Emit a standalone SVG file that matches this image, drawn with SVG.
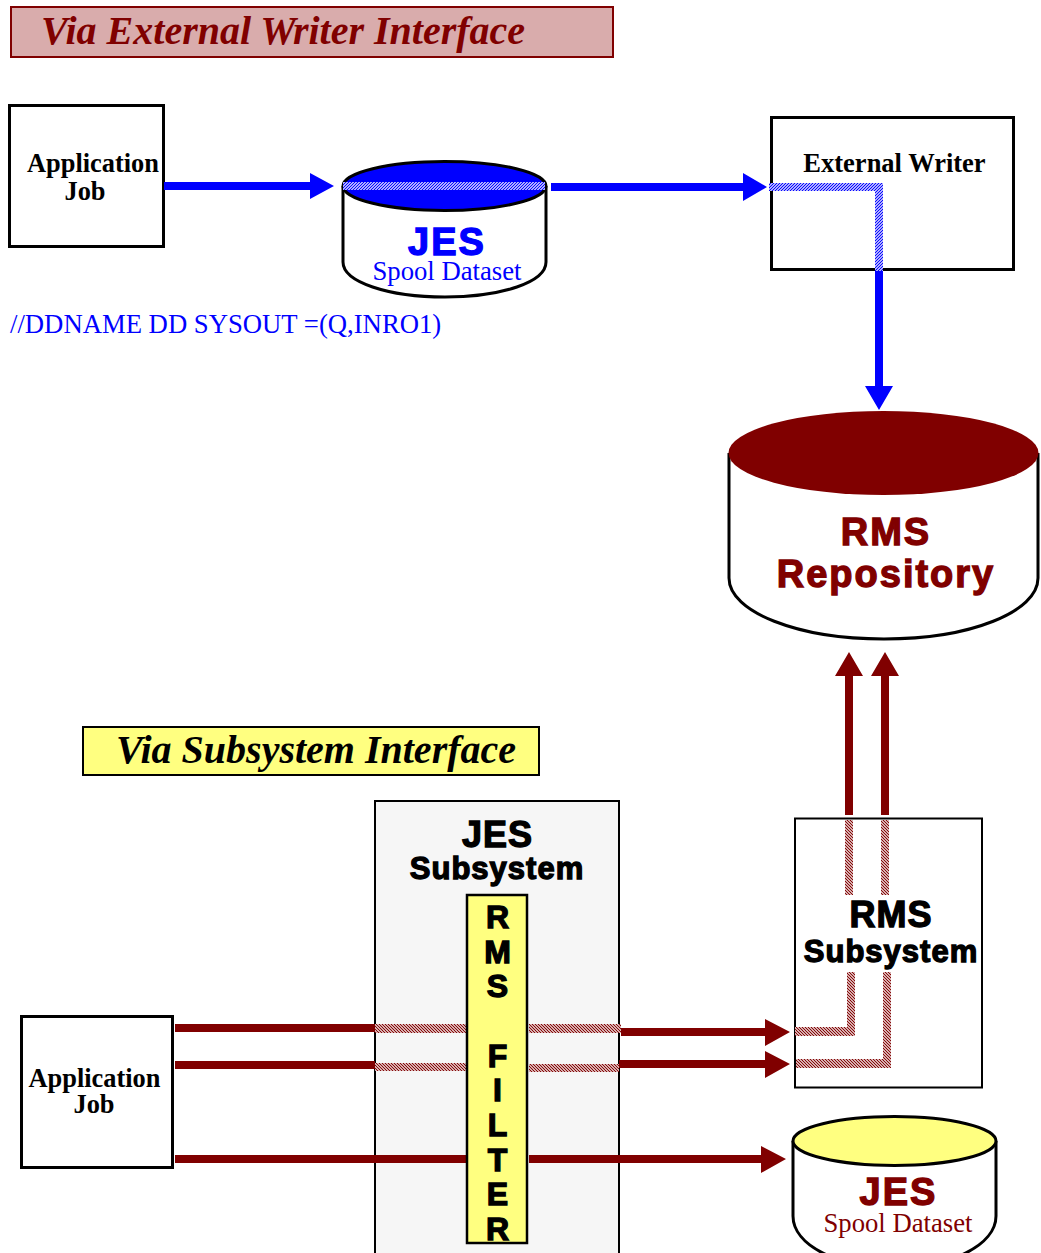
<svg xmlns="http://www.w3.org/2000/svg" width="1041" height="1253" viewBox="0 0 1041 1253">
<style>
.box{fill:#fff;stroke:#000;stroke-width:3}
.cyl{stroke:#000;stroke-width:3}
.serif{font-family:"Liberation Serif","Times New Roman",serif}
.sans{font-family:"Liberation Sans",Arial,sans-serif;font-weight:700;stroke-width:1.3;paint-order:stroke}
.k{fill:#000;stroke:#000}
.t{text-anchor:middle}
.b{font-weight:700}
.blue{fill:#00f}
.red{fill:#800000}
.sb{stroke:#00f}
.sr{stroke:#800000}
</style>
<defs>
<pattern id="hb" width="3" height="3" patternUnits="userSpaceOnUse"><rect width="3" height="3" fill="#fff"/><path d="M0 3L3 0M-1 1L1 -1M2 4L4 2" stroke="#00f" stroke-width="1.2"/></pattern>
<pattern id="hr" width="3" height="3" patternUnits="userSpaceOnUse"><rect width="3" height="3" fill="#fff"/><path d="M0 0L3 3M-1 2L1 4M2 -1L4 1" stroke="#800000" stroke-width="1.2"/></pattern>
</defs>

<g id="title-external">
<rect x="11" y="7" width="602" height="50" fill="#d9acac" stroke="#800000" stroke-width="2"/>
<text class="serif b red" x="41" y="44" font-size="40" font-style="italic">Via External Writer Interface</text>
</g>
<g id="app-job-top">
<rect class="box" x="9.500" y="105.500" width="154" height="141"/>
<text class="serif b t" x="93" y="172" font-size="26.400">Application</text>
<text class="serif b t" x="85" y="200" font-size="26.400">Job</text>
</g>
<g id="jes-spool-top">
<path d="M343 186V262C343 282 388 297 445 297S546 282 546 262V186" fill="#fff" stroke="#000" stroke-width="3"/>
<ellipse class="cyl" cx="444.500" cy="186" rx="101.500" ry="24.500" fill="#00f"/>
<text class="sans t blue sb" x="447" y="255" font-size="38" letter-spacing="2">JES</text>
<text class="serif t blue" x="447" y="280" font-size="26.700">Spool Dataset</text>
</g>
<g id="external-writer">
<rect class="box" x="771.500" y="117.500" width="242" height="152"/>
<text class="serif b t" x="894.500" y="172" font-size="26.500">External Writer</text>
</g>
<g id="rms-repository">
<path d="M729 453V578C729 612 798 639 884 639S1038 612 1038 578V453" fill="#fff" stroke="#000" stroke-width="3"/>
<ellipse cx="883.500" cy="453" rx="155" ry="42" fill="#800000"/>
<text class="sans t red sr" x="886" y="545" font-size="38" letter-spacing="2">RMS</text>
<text class="sans t red sr" x="886" y="587" font-size="38" letter-spacing="2">Repository</text>
</g>
<text class="serif blue" x="10" y="333" font-size="26.700">//DDNAME DD SYSOUT =(Q,INRO1)</text>

<g id="title-subsystem">
<rect x="83" y="727" width="456" height="48" fill="#ffff80" stroke="#000" stroke-width="2"/>
<text class="serif b" x="116" y="763" font-size="40" font-style="italic">Via Subsystem Interface</text>
</g>
<g id="jes-subsystem">
<path d="M375 1253V801H619V1253" fill="#f6f6f6" stroke="#000" stroke-width="2"/>
<text class="sans k t" x="497.500" y="847" font-size="36" letter-spacing="1">JES</text>
<text class="sans k t" x="497" y="879" font-size="31" letter-spacing="1">Subsystem</text>
</g>
<g id="rms-subsystem">
<rect x="795" y="818.500" width="187" height="269" fill="#fff" stroke="#000" stroke-width="2"/>
<text class="sans k t" x="891" y="927" font-size="36" letter-spacing="1">RMS</text>
<text class="sans k t" x="891" y="962" font-size="31" letter-spacing="1">Subsystem</text>
</g>
<g id="app-job-bottom">
<rect class="box" x="21.500" y="1016.500" width="151" height="151"/>
<text class="serif b t" x="94.500" y="1087" font-size="26.400">Application</text>
<text class="serif b t" x="94" y="1113" font-size="26.400">Job</text>
</g>
<g id="jes-spool-bottom">
<path d="M793 1141V1216C793 1245 838 1268 894 1268S996 1245 996 1216V1141" fill="#fff" stroke="#000" stroke-width="3"/>
<ellipse class="cyl" cx="894.500" cy="1141" rx="101.500" ry="24.500" fill="#ffff80"/>
<text class="sans t red sr" x="898.500" y="1205" font-size="38" letter-spacing="2">JES</text>
<text class="serif t red" x="898" y="1232" font-size="26.700">Spool Dataset</text>
</g>

<g id="connectors">
<path d="M164 182H310V173L334 186L310 199V190H164Z" fill="#00f"/>
<rect x="343" y="182" width="202" height="8" fill="url(#hb)"/>
<path d="M551 183H743V173L767 187L743 201V191H551Z" fill="#00f"/>
<path d="M769 183H883V271H875V191H769Z" fill="url(#hb)"/>
<path d="M875 271H883V386H893L879 410L865 386H875Z" fill="#00f"/>

<path d="M845 815V676H835L849 652L863 676H853V815Z" fill="#800000"/>
<path d="M881 815V676H871L885 652L899 676H889V815Z" fill="#800000"/>
<rect x="845" y="820" width="8" height="75" fill="url(#hr)"/>
<rect x="881" y="820" width="8" height="75" fill="url(#hr)"/>
<path d="M795 1027H847V972H855V1036H795Z" fill="url(#hr)"/>
<path d="M796 1059H883V972H891V1068H796Z" fill="url(#hr)"/>

<rect x="175" y="1024" width="200" height="8" fill="#800000"/>
<rect x="375" y="1024" width="92" height="9" fill="url(#hr)"/>
<rect x="529" y="1024" width="92" height="9" fill="url(#hr)"/>
<path d="M621 1028H765V1019L790 1032L765 1046V1036H621Z" fill="#800000"/>
<rect x="175" y="1061" width="200" height="8" fill="#800000"/>
<rect x="375" y="1063" width="92" height="8" fill="url(#hr)"/>
<rect x="529" y="1064" width="90" height="8" fill="url(#hr)"/>
<path d="M619 1060H765V1051L790 1064L765 1078V1068H619Z" fill="#800000"/>
<rect x="175" y="1155" width="292" height="8" fill="#800000"/>
<path d="M529 1155H761V1146L786 1159L761 1173V1163H529Z" fill="#800000"/>
</g>

<g id="rms-filter">
<rect x="467" y="895" width="60" height="348" fill="#ffff80" stroke="#000" stroke-width="2.500"/>
<g class="sans k t" font-size="32">
<text x="497.500" y="928">R</text>
<text x="497.500" y="963">M</text>
<text x="497.500" y="997">S</text>
<text x="497.500" y="1067">F</text>
<text x="497.500" y="1101">I</text>
<text x="497.500" y="1136">L</text>
<text x="497.500" y="1171">T</text>
<text x="497.500" y="1205">E</text>
<text x="497.500" y="1240">R</text>
</g>
</g>
</svg>
